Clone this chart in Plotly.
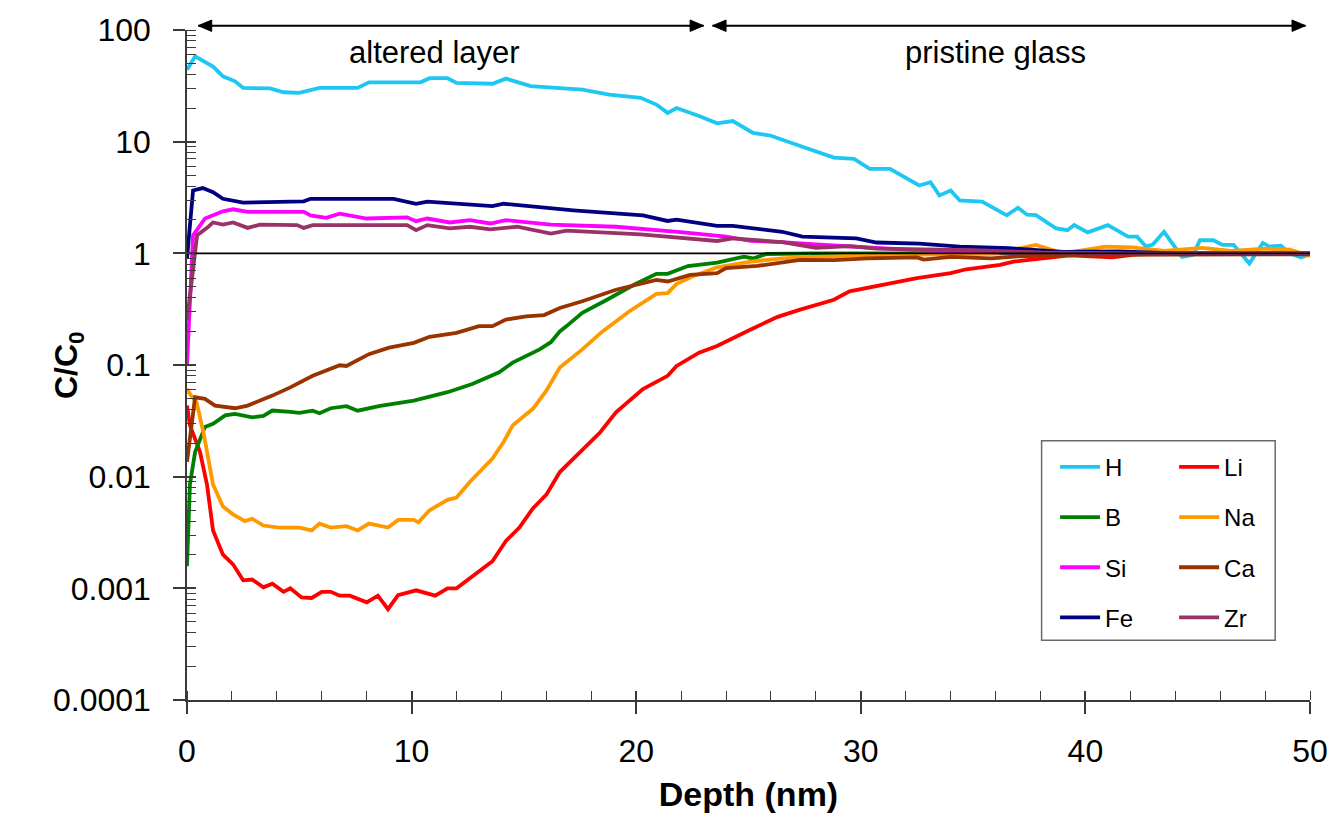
import plotly.graph_objects as go

# ---------------- data ----------------
H_x = [0, 0.36, 1.16, 1.6, 2.14, 2.5, 3.7, 4.3, 5.0, 5.9, 7.6, 8.1, 10.4, 10.8, 11.6, 12.0, 13.6, 14.2,
       15.3, 16.2, 17.6, 18.8, 20.2, 20.9, 21.4, 21.8, 22.8, 23.6, 24.3, 25.2, 26.0, 27.4, 28.8, 29.7,
       30.4, 31.3, 32.6, 33.1, 33.5, 34.0, 34.4, 35.4, 36.5, 37.0, 37.4, 37.8, 38.7, 39.2, 39.5, 40.1,
       41.0, 41.9, 42.3, 42.7, 43.0, 43.5, 43.9, 44.3, 44.8, 45.1, 45.7, 46.1, 46.6, 46.9, 47.3, 47.9,
       48.2, 48.7, 49.1, 49.6, 50.0]
H_y = [44, 58, 47, 38.5, 34.7, 30.3, 30, 27.7, 27.4, 30.3, 30.3, 34, 34, 37, 37, 33.6, 33, 36.7,
       31.4, 30.3, 29.2, 26.4, 24.7, 21.5, 18.1, 20, 17, 14.6, 15.3, 12.0, 11.3, 9.0, 7.2, 7.0,
       5.7, 5.7, 4.05, 4.34, 3.3, 3.65, 2.98, 2.9, 2.19, 2.56, 2.22, 2.2, 1.67, 1.61, 1.79, 1.54,
       1.79, 1.41, 1.41, 1.15, 1.2, 1.56, 1.2, 0.93, 0.97, 1.31, 1.31, 1.19, 1.19, 1.0, 0.81, 1.24,
       1.15, 1.17, 1.0, 0.92, 0.98]

Li_x = [0, 0.13, 0.58, 0.89, 1.16, 1.6, 2.05, 2.5, 2.9, 3.4, 3.8, 4.3, 4.6, 5.1, 5.55, 6.0, 6.4, 6.8,
        7.25, 8.0, 8.5, 8.95, 9.4, 10.2, 11.05, 11.6, 12.0, 12.7, 13.6, 14.2, 14.8, 15.4, 16.0, 16.6,
        17.5, 18.4, 19.1, 20.3, 21.4, 21.8, 22.8, 23.6, 25.1, 26.3, 27.3, 28.8, 29.5, 31.0, 32.5,
        34.0, 34.7, 36.2, 36.8, 39.3, 40.5, 41.2, 42.3, 45, 50]
Li_y = [0.0433, 0.0288, 0.0166, 0.0085, 0.0033, 0.0020, 0.00164, 0.00118, 0.0012, 0.00102, 0.0011,
        0.00093, 0.001, 0.00083, 0.00082, 0.00093, 0.00093, 0.00086, 0.00086, 0.00075, 0.00086,
        0.00065, 0.00087, 0.00096, 0.00086, 0.001, 0.001, 0.00129, 0.00175, 0.00266, 0.0035, 0.0052,
        0.0069, 0.011, 0.0166, 0.025, 0.0376, 0.061, 0.08, 0.098, 0.129, 0.148, 0.208, 0.27, 0.313,
        0.384, 0.456, 0.523, 0.6, 0.664, 0.72, 0.787, 0.843, 0.96, 0.93, 0.92, 0.98, 1.0, 0.99]

B_x = [0, 0.13, 0.36, 0.8, 1.16, 1.7, 2.14, 2.9, 3.4, 3.8, 4.6, 5.0, 5.6, 5.9, 6.4, 7.1, 7.6, 8.6,
       10.1, 11.6, 12.7, 13.9, 14.5, 15.1, 15.7, 16.2, 16.6, 16.9, 17.6, 18.7, 19.9, 20.9, 21.4, 22.3,
       23.6, 24.8, 25.2, 25.8, 28, 32, 36, 40, 45, 50]
B_y = [0.00158, 0.0085, 0.0166, 0.0279, 0.0297, 0.0354, 0.0365, 0.034, 0.035, 0.0391, 0.038, 0.0373,
       0.039, 0.037, 0.041, 0.0428, 0.039, 0.043, 0.048, 0.0571, 0.0675, 0.0861, 0.105, 0.121, 0.138,
       0.16, 0.2, 0.223, 0.293, 0.384, 0.523, 0.655, 0.655, 0.77, 0.826, 0.934, 0.9, 0.986, 1.0, 1.0,
       1.0, 1.0, 1.0, 1.0]

Na_x = [0, 0.13, 0.43, 0.73, 1.16, 1.6, 2.05, 2.58, 2.9, 3.4, 4.1, 5.0, 5.55, 5.9, 6.4, 7.1, 7.6, 8.1,
        8.95, 9.4, 10.1, 10.3, 10.8, 11.6, 12.0, 12.6, 13.6, 14.1, 14.5, 15.4, 16.0, 16.6, 17.6, 18.5,
        19.7, 20.9, 21.4, 21.8, 22.5, 23.6, 25.1, 26.5, 28, 30, 32, 34, 36, 37.8, 39, 40.9, 42.1,
        43.5, 45.2, 46.5, 48, 49.1, 50]
Na_y = [0.061, 0.055, 0.046, 0.025, 0.0085, 0.0054, 0.0046, 0.0040, 0.0042, 0.00365, 0.0035, 0.0035,
        0.0033, 0.0038, 0.0035, 0.0036, 0.0033, 0.0038, 0.0035, 0.0041, 0.0041, 0.0039, 0.005, 0.0062,
        0.0065, 0.009, 0.0145, 0.0205, 0.0288, 0.0405, 0.0588, 0.095, 0.138, 0.2, 0.303, 0.434, 0.44,
        0.533, 0.62, 0.75, 0.843, 0.9, 0.93, 0.96, 0.97, 0.98, 1.0, 1.19, 1.0, 1.15, 1.13, 1.05, 1.12,
        1.05, 1.1, 1.08, 0.95]

Si_x = [0, 0.27, 0.8, 1.6, 2.05, 2.7, 5.2, 5.5, 6.2, 6.8, 8.0, 9.8, 10.2, 10.7, 11.7, 12.6, 13.5,
        14.2, 16.2, 19.1, 22.1, 24.0, 25.1, 26.5, 28.0, 29.5, 30.7, 33, 36, 40, 45, 50]
Si_y = [0.1, 1.45, 2.05, 2.38, 2.48, 2.35, 2.35, 2.19, 2.08, 2.27, 2.05, 2.1, 1.94, 2.05, 1.89, 1.98,
        1.85, 1.98, 1.81, 1.73, 1.54, 1.41, 1.29, 1.26, 1.2, 1.15, 1.1, 1.05, 1.02, 1.0, 1.0, 0.99]

Ca_x = [0, 0.36, 0.8, 1.25, 2.14, 2.7, 3.8, 4.6, 5.6, 6.8, 7.1, 8.1, 9.0, 10.1, 10.8, 12.0, 13.0,
        13.6, 14.2, 15.1, 15.9, 16.6, 17.6, 19.1, 20.9, 21.4, 22.4, 23.6, 24.0, 25.4, 27.3, 28.8,
        30.3, 32.5, 32.8, 34, 35.8, 37, 40, 45, 50]
Ca_y = [0.0136, 0.0514, 0.0498, 0.0433, 0.041, 0.0433, 0.0532, 0.063, 0.08, 0.0995, 0.098, 0.125,
        0.143, 0.158, 0.179, 0.194, 0.223, 0.223, 0.255, 0.273, 0.28, 0.324, 0.372, 0.472, 0.579,
        0.56, 0.641, 0.664, 0.736, 0.771, 0.872, 0.87, 0.9, 0.92, 0.88, 0.93, 0.9, 0.94, 0.97, 0.98,
        0.98]

Fe_x = [0, 0.27, 0.7, 1.16, 1.6, 2.5, 5.2, 5.5, 9.2, 10.2, 10.7, 12.0, 13.6, 14.1, 17.2, 20.3, 21.4,
        21.8, 23.6, 24.3, 26.5, 27.4, 29.8, 30.7, 32.6, 34.4, 36.6, 39.0, 41.5, 44, 47, 50]
Fe_y = [0.9, 3.66, 3.84, 3.53, 3.08, 2.84, 2.92, 3.08, 3.08, 2.78, 2.9, 2.78, 2.65, 2.78, 2.43, 2.19,
        1.95, 2.0, 1.76, 1.76, 1.56, 1.41, 1.36, 1.25, 1.22, 1.15, 1.11, 1.03, 1.04, 1.0, 1.0, 1.0]

Zr_x = [0, 0.45, 0.95, 1.16, 1.6, 2.05, 2.7, 3.25, 4.9, 5.2, 5.6, 9.8, 10.2, 10.7, 11.7, 12.6, 13.5,
        14.7, 16.2, 16.9, 20.2, 23.6, 24.3, 26.5, 28.0, 29.5, 30.7, 33, 35, 38, 42, 46, 50]
Zr_y = [0.25, 1.45, 1.73, 1.89, 1.81, 1.89, 1.69, 1.81, 1.79, 1.69, 1.79, 1.79, 1.61, 1.79, 1.67,
        1.73, 1.64, 1.73, 1.5, 1.6, 1.48, 1.29, 1.36, 1.26, 1.12, 1.16, 1.1, 1.08, 1.07, 1.02, 1.0,
        1.0, 1.0]

REF_LEVEL = 1.0
X_RANGE = [0, 50]
Y_TICKS = [1e-4, 1e-3, 1e-2, 1e-1, 1, 10, 100]
Y_TICKTEXT = ["0.0001", "0.001", "0.01", "0.1", "1", "10", "100"]
X_TICKS = [0, 10, 20, 30, 40, 50]
# region arrows: (label, left tip, right tip, label centre) in depth units
REGIONS = [("altered layer", 0.5, 23.0, 11.0), ("pristine glass", 23.4, 49.8, 36.0)]

series = [
    ("H", H_x, H_y, "#1EC6F2", "legend"),
    ("Li", Li_x, Li_y, "#FF0000", "legend2"),
    ("B", B_x, B_y, "#008000", "legend"),
    ("Na", Na_x, Na_y, "#FF9900", "legend2"),
    ("Si", Si_x, Si_y, "#FF00FF", "legend"),
    ("Ca", Ca_x, Ca_y, "#993300", "legend2"),
    ("Fe", Fe_x, Fe_y, "#000080", "legend"),
    ("Zr", Zr_x, Zr_y, "#993366", "legend2"),
]

FONT = "Liberation Sans, Arial, sans-serif"
AXC = "#3a3a3a"

fig = go.Figure()
for name, xs, ys, col, lg in series:
    fig.add_trace(go.Scatter(x=xs, y=ys, mode="lines", name=name,
                             line=dict(color=col, width=3.8), legend=lg,
                             legendgroup=name))

# reference line at C/C0 = 1 (on the overlay axes, so those axes get drawn)
fig.add_trace(go.Scatter(x=X_RANGE, y=[REF_LEVEL, REF_LEVEL], mode="lines",
                         line=dict(color="black", width=1.6), showlegend=False,
                         xaxis="x2", yaxis="y2", hoverinfo="skip"))

fig.update_layout(
    width=1340, height=819,
    margin=dict(l=187, r=30, t=25, b=119),
    paper_bgcolor="white", plot_bgcolor="white",
    font=dict(family=FONT, color="black"),
    xaxis=dict(range=X_RANGE, showgrid=False, zeroline=False, showline=True,
               linecolor=AXC, linewidth=1.5, ticks="outside", ticklen=12,
               tickwidth=1.5, tickcolor=AXC, tickvals=X_TICKS,
               tickfont=dict(size=32, family=FONT), ticklabelstandoff=10,
               minor=dict(ticks="inside", ticklen=9, dtick=2, tickcolor=AXC,
                          tickwidth=1.3, showgrid=False),
               title=dict(text="<b>Depth (nm)</b>", font=dict(size=34, family=FONT),
                          standoff=14)),
    yaxis=dict(type="log", range=[-4, 2], showgrid=False, zeroline=False,
               showline=True, linecolor=AXC, linewidth=1.5, ticks="outside",
               ticklen=12, tickwidth=1.5, tickcolor=AXC, tickmode="array",
               tickvals=Y_TICKS, ticktext=Y_TICKTEXT,
               tickfont=dict(size=32, family=FONT), ticklabelstandoff=16,
               minor=dict(ticks="inside", ticklen=9, tickmode="linear", dtick="D1",
                          tickcolor=AXC, tickwidth=1.3, showgrid=False)),
    xaxis2=dict(range=X_RANGE, overlaying="x", anchor="y", side="bottom",
                showgrid=False, zeroline=False, showline=False, ticks="inside",
                ticklen=9, tickwidth=1.5, tickcolor=AXC, tickvals=X_TICKS,
                showticklabels=False),
    yaxis2=dict(type="log", range=[-4, 2], overlaying="y", anchor="x", side="left",
                showgrid=False, zeroline=False, showline=False, ticks="inside",
                ticklen=9, tickwidth=1.5, tickcolor=AXC, tickmode="array",
                tickvals=Y_TICKS, showticklabels=False),
    legend=dict(x=0.773, y=0.381, xanchor="left", yanchor="top",
                font=dict(size=24, family=FONT), bgcolor="rgba(0,0,0,0)",
                tracegroupgap=16, itemwidth=40),
    legend2=dict(x=0.879, y=0.381, xanchor="left", yanchor="top",
                 font=dict(size=24, family=FONT), bgcolor="rgba(0,0,0,0)",
                 tracegroupgap=16, itemwidth=40),
    showlegend=True,
)

# legend frame
fig.add_shape(type="rect", xref="paper", yref="paper",
              x0=0.761, x1=0.969, y0=0.089, y1=0.387,
              line=dict(color="#6a6a6a", width=1.5), fillcolor="rgba(0,0,0,0)")

# region arrows above the plot: line + filled triangle heads
ARROW_Y = 1.0064      # paper units (just above the plot top)
HEAD_L = 0.6          # head length in depth units
HEAD_H = 0.0085       # head half-height in paper units
for label, left, right, xc in REGIONS:
    fig.add_shape(type="line", xref="x", yref="paper", x0=left, x1=right,
                  y0=ARROW_Y, y1=ARROW_Y, line=dict(color="black", width=2))
    fig.add_shape(type="path", xref="x", yref="paper",
                  path=(f"M {left},{ARROW_Y} L {left + HEAD_L},{ARROW_Y + HEAD_H} "
                        f"L {left + HEAD_L},{ARROW_Y - HEAD_H} Z"),
                  fillcolor="black", line=dict(color="black", width=1))
    fig.add_shape(type="path", xref="x", yref="paper",
                  path=(f"M {right},{ARROW_Y} L {right - HEAD_L},{ARROW_Y + HEAD_H} "
                        f"L {right - HEAD_L},{ARROW_Y - HEAD_H} Z"),
                  fillcolor="black", line=dict(color="black", width=1))
    fig.add_annotation(x=xc, y=0.966, xref="x", yref="paper", text=label,
                       yanchor="middle", xanchor="center", showarrow=False,
                       font=dict(size=31, family=FONT))

# y-axis title
fig.add_annotation(x=-0.126, y=0.50, xref="paper", yref="paper",
                   text="<b>C/C<sub>0</sub></b>", textangle=-90, showarrow=False,
                   font=dict(size=32, family=FONT))

fig.write_html("out.html")
